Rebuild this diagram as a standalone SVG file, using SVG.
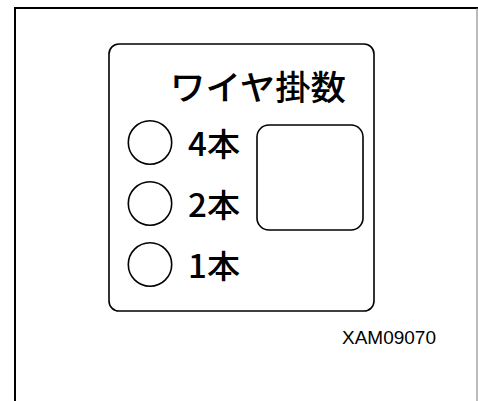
<svg xmlns="http://www.w3.org/2000/svg" width="478" height="401" viewBox="0 0 478 401">
  <style>
    .ln { fill: none; stroke: #000; stroke-width: 1.6; }
    .jp { font-family: "Noto Sans CJK JP", "Noto Sans", sans-serif; fill: #000; font-weight: 500; }
    .code { font-family: "Liberation Sans", Arial, sans-serif; fill: #000; }
  </style>
  <rect width="478" height="401" fill="#fff"/>
  <g id="frame">
    <line x1="14" y1="8" x2="478" y2="8" stroke="#000" stroke-width="2"/>
    <line x1="15" y1="7" x2="15" y2="401" stroke="#000" stroke-width="2"/>
    <line x1="477" y1="8" x2="477" y2="401" stroke="#777" stroke-width="1"/>
  </g>
  <g id="panel">
    <rect class="ln" x="109" y="44" width="265" height="267" rx="10" ry="10"/>
    <text class="jp" x="170" y="100" font-size="34" textLength="176" lengthAdjust="spacingAndGlyphs">ワイヤ掛数</text>
  </g>
  <g id="display">
    <rect class="ln" x="257" y="125" width="106" height="105" rx="12" ry="12"/>
  </g>
  <g id="opt4">
    <circle class="ln" cx="150" cy="142.5" r="21.7" stroke-width="1.3"/>
    <text class="jp" x="188" y="155.5" font-size="32" textLength="52" lengthAdjust="spacingAndGlyphs">4本</text>
  </g>
  <g id="opt2">
    <circle class="ln" cx="150" cy="203.5" r="21.7" stroke-width="1.3"/>
    <text class="jp" x="188" y="216.5" font-size="32" textLength="52" lengthAdjust="spacingAndGlyphs">2本</text>
  </g>
  <g id="opt1">
    <circle class="ln" cx="150" cy="264.5" r="21.7" stroke-width="1.3"/>
    <text class="jp" x="188" y="277.5" font-size="32" textLength="52" lengthAdjust="spacingAndGlyphs">1本</text>
  </g>
  <g id="connectors"/>
  <text class="code" x="342" y="343.5" font-size="18.5" textLength="94" lengthAdjust="spacingAndGlyphs">XAM09070</text>
</svg>
